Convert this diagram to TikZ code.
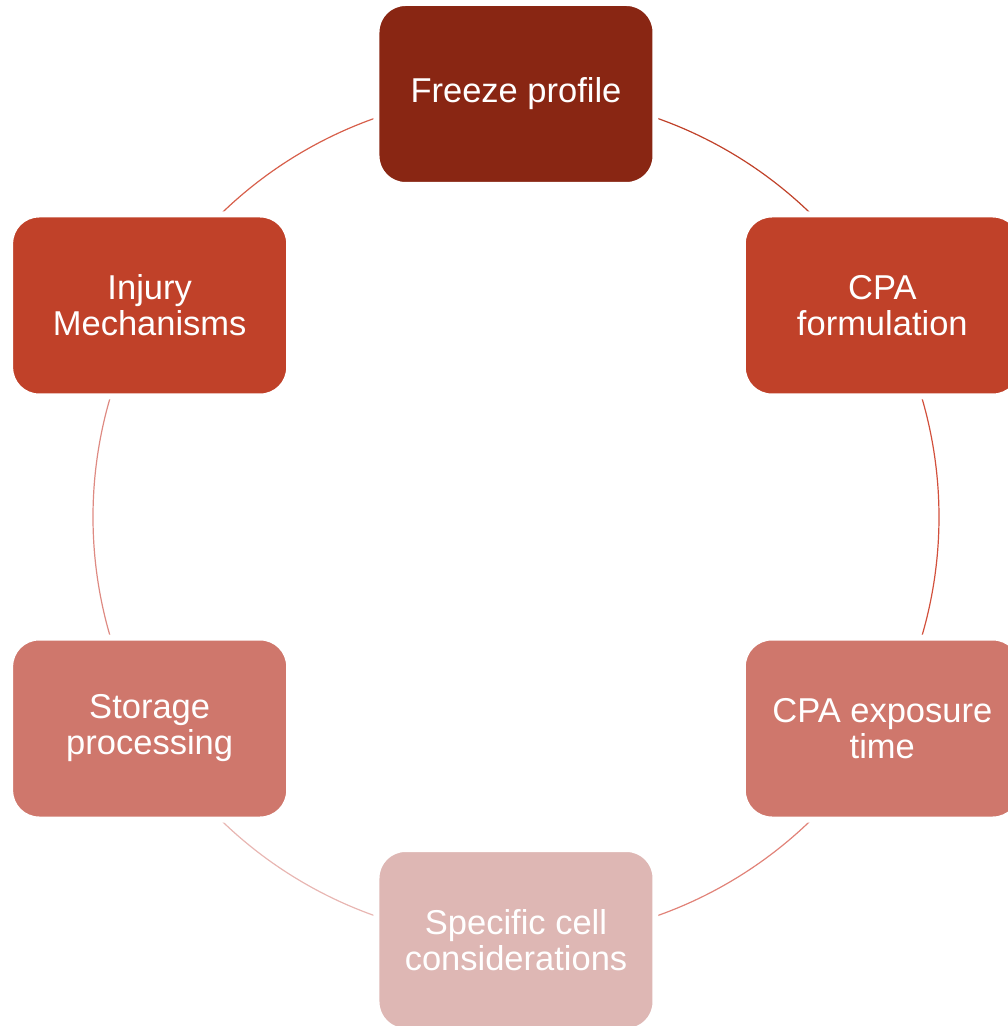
\documentclass[tikz,border=0pt]{standalone}
\usepackage{fontspec}
\setmainfont{Liberation Sans}
\usepackage{tikz}
\usetikzlibrary{backgrounds,
                positioning}

\definecolor{StepDark}{RGB}{137,38,19}
\definecolor{StepRed}{RGB}{192,65,41}
\definecolor{StepRose}{RGB}{207,119,108}
\definecolor{StepPale}{RGB}{222,183,180}

\begin{document}
\begin{tikzpicture}[x=1pt,y=1pt,
                    Stage/.style={draw=white, line width=6pt, rounded corners=29pt,
                                  minimum width=279pt, minimum height=182pt,
                                  text=white, align=center, inner sep=0pt,
                                  font=\fontsize{34.5}{36}\selectfont},
                    ring/.style={line width=1.2pt}
                    ]
    \useasboundingbox (-516,-509) rectangle (492,517);
    % RING %
    \newdimen\R
    \R=423pt
    \node[Stage, fill=StepDark] (fp)   at (90:\R)  {Freeze profile};
    \node[Stage, fill=StepRed]  (cpa)  at (30:\R)  {CPA\\formulation};
    \node[Stage, fill=StepRose] (exp)  at (-30:\R) {CPA exposure\\time};
    \node[Stage, fill=StepPale] (spec) at (-90:\R) {Specific cell\\considerations};
    \node[Stage, fill=StepRose] (stor) at (210:\R) {Storage\\processing};
    \node[Stage, fill=StepRed]  (inj)  at (150:\R) {Injury\\Mechanisms};

    % ARCS %
    \begin{scope}[on background layer]
    \draw[ring, color={rgb,255:red,192;green,65;blue,41}]   (fp.center)   arc[start angle=90,  end angle=30,   radius=\R];
    \draw[ring, color={rgb,255:red,210;green,80;blue,60}]   (cpa.center)  arc[start angle=30,  end angle=-30,  radius=\R];
    \draw[ring, color={rgb,255:red,225;green,130;blue,120}] (exp.center)  arc[start angle=-30, end angle=-90,  radius=\R];
    \draw[ring, color={rgb,255:red,232;green,182;blue,178}] (spec.center) arc[start angle=-90, end angle=-150, radius=\R];
    \draw[ring, color={rgb,255:red,222;green,138;blue,130}] (stor.center) arc[start angle=210, end angle=150,  radius=\R];
    \draw[ring, color={rgb,255:red,215;green,95;blue,75}]   (inj.center)  arc[start angle=150, end angle=90,   radius=\R];
    \end{scope}
\end{tikzpicture}
\end{document}
